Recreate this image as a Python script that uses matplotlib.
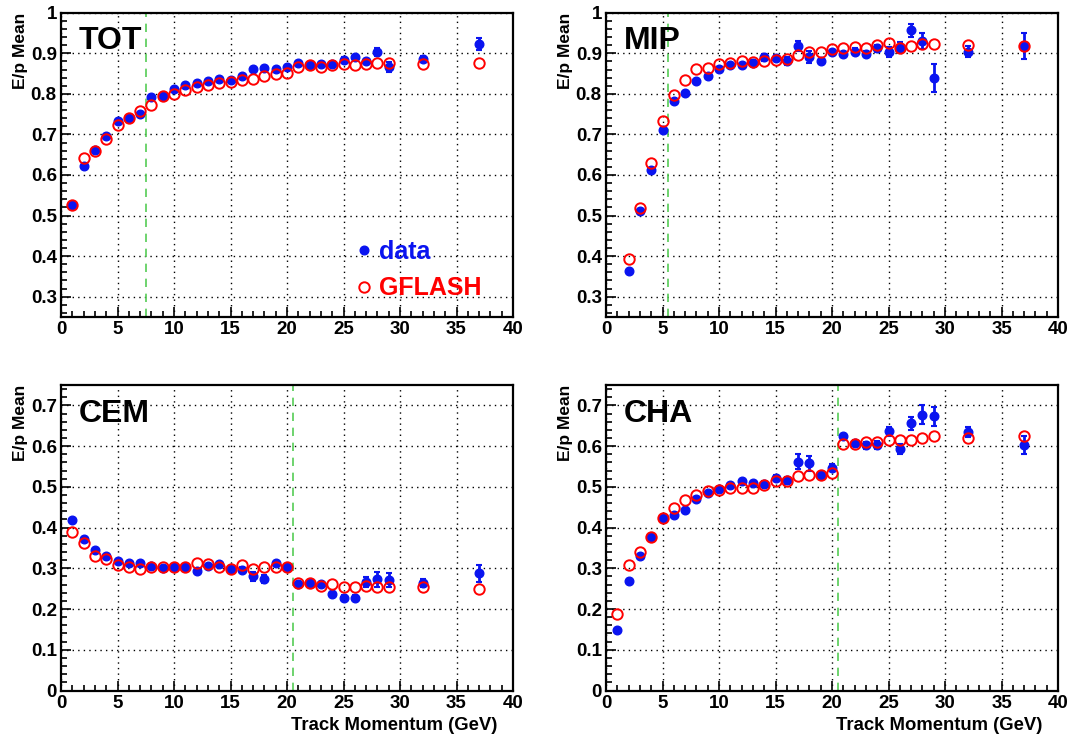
import matplotlib
matplotlib.use("Agg")
import matplotlib.pyplot as plt
from matplotlib.ticker import MultipleLocator, FuncFormatter
from matplotlib.lines import Line2D

plt.rcParams['font.family'] = ['Liberation Sans', 'DejaVu Sans']
plt.rcParams['font.weight'] = 'bold'

momentum = [1, 2, 3, 4, 5, 6, 7, 8, 9, 10, 11, 12, 13, 14, 15, 16, 17, 18, 19, 20,
            21, 22, 23, 24, 25, 26, 27, 28, 29, 32, 37]
momentum_mip = momentum[1:]

tot_data = [0.527, 0.622, 0.661, 0.696, 0.733, 0.741, 0.751, 0.792, 0.794, 0.813,
            0.822, 0.827, 0.831, 0.837, 0.835, 0.843, 0.861, 0.863, 0.861, 0.865,
            0.877, 0.870, 0.873, 0.873, 0.884, 0.890, 0.880, 0.904, 0.867, 0.887, 0.923]
tot_err = [0.004, 0.004, 0.004, 0.004, 0.004, 0.004, 0.004, 0.004, 0.004, 0.004,
           0.004, 0.004, 0.004, 0.004, 0.004, 0.004, 0.006, 0.006, 0.005, 0.005,
           0.005, 0.005, 0.005, 0.005, 0.006, 0.006, 0.006, 0.010, 0.012, 0.007, 0.015]
tot_gflash = [0.527, 0.641, 0.658, 0.688, 0.724, 0.741, 0.757, 0.773, 0.794, 0.800,
              0.810, 0.818, 0.821, 0.827, 0.829, 0.833, 0.837, 0.845, 0.849, 0.851,
              0.867, 0.870, 0.866, 0.871, 0.873, 0.870, 0.873, 0.876, 0.876, 0.873, 0.876]

mip_data = [0.364, 0.512, 0.613, 0.710, 0.782, 0.802, 0.831, 0.843, 0.861,
            0.871, 0.871, 0.877, 0.890, 0.888, 0.880, 0.918, 0.890, 0.881, 0.902,
            0.898, 0.904, 0.898, 0.912, 0.904, 0.914, 0.957, 0.930, 0.839, 0.904, 0.918]
mip_err = [0.003, 0.003, 0.004, 0.004, 0.004, 0.004, 0.004, 0.005, 0.005,
           0.005, 0.005, 0.006, 0.008, 0.008, 0.010, 0.012, 0.015, 0.005, 0.007,
           0.006, 0.008, 0.008, 0.009, 0.012, 0.013, 0.016, 0.019, 0.034, 0.013, 0.031]
mip_gflash = [0.392, 0.519, 0.629, 0.733, 0.796, 0.833, 0.862, 0.863, 0.874,
              0.876, 0.881, 0.878, 0.882, 0.884, 0.885, 0.896, 0.902, 0.904, 0.910,
              0.912, 0.915, 0.912, 0.920, 0.926, 0.912, 0.918, 0.922, 0.923, 0.920, 0.918]

cem_data = [0.418, 0.373, 0.346, 0.329, 0.319, 0.312, 0.314, 0.306, 0.300, 0.302,
            0.302, 0.293, 0.306, 0.310, 0.298, 0.296, 0.280, 0.274, 0.314, 0.302,
            0.261, 0.265, 0.262, 0.237, 0.228, 0.228, 0.266, 0.273, 0.271, 0.263, 0.288]
cem_err = [0.003, 0.003, 0.003, 0.003, 0.003, 0.003, 0.003, 0.003, 0.003, 0.003,
           0.003, 0.004, 0.004, 0.004, 0.004, 0.006, 0.010, 0.010, 0.005, 0.005,
           0.005, 0.005, 0.005, 0.006, 0.006, 0.007, 0.012, 0.018, 0.018, 0.010, 0.021]
cem_gflash = [0.390, 0.361, 0.331, 0.324, 0.308, 0.302, 0.298, 0.302, 0.304, 0.302,
              0.302, 0.312, 0.311, 0.304, 0.298, 0.307, 0.298, 0.302, 0.302, 0.302,
              0.265, 0.263, 0.257, 0.262, 0.254, 0.255, 0.257, 0.255, 0.254, 0.254, 0.249]

cha_data = [0.149, 0.270, 0.329, 0.376, 0.424, 0.432, 0.443, 0.470, 0.485, 0.494,
            0.504, 0.514, 0.509, 0.508, 0.522, 0.516, 0.562, 0.558, 0.528, 0.547,
            0.624, 0.607, 0.602, 0.602, 0.636, 0.593, 0.656, 0.677, 0.673, 0.634, 0.602]
cha_err = [0.004, 0.004, 0.004, 0.004, 0.004, 0.004, 0.004, 0.005, 0.005, 0.005,
           0.005, 0.006, 0.006, 0.006, 0.008, 0.009, 0.018, 0.018, 0.006, 0.008,
           0.006, 0.007, 0.008, 0.010, 0.012, 0.013, 0.016, 0.023, 0.023, 0.012, 0.022]
cha_gflash = [0.188, 0.307, 0.341, 0.376, 0.424, 0.447, 0.467, 0.479, 0.490, 0.492,
              0.496, 0.497, 0.497, 0.505, 0.514, 0.514, 0.526, 0.530, 0.528, 0.535,
              0.606, 0.604, 0.611, 0.611, 0.616, 0.614, 0.615, 0.619, 0.624, 0.619, 0.626]

W, H = 1072.0, 738.0
panels = [
    dict(name="TOT", x=momentum, data=tot_data, err=tot_err, mc=tot_gflash, cut=7.5,
         ylim=(0.25, 1.0), rect=[61/W, 1-317/H, 452/W, (317-12.7)/H],
         xlabel=False, legend=True),
    dict(name="MIP", x=momentum_mip, data=mip_data, err=mip_err, mc=mip_gflash, cut=5.5,
         ylim=(0.25, 1.0), rect=[606/W, 1-317/H, 452/W, (317-12.7)/H],
         xlabel=False, legend=False),
    dict(name="CEM", x=momentum, data=cem_data, err=cem_err, mc=cem_gflash, cut=20.5,
         ylim=(0.0, 0.75), rect=[61/W, 1-690.5/H, 452/W, (690.5-385)/H],
         xlabel=True, legend=False),
    dict(name="CHA", x=momentum, data=cha_data, err=cha_err, mc=cha_gflash, cut=20.5,
         ylim=(0.0, 0.75), rect=[606/W, 1-690.5/H, 452/W, (690.5-385)/H],
         xlabel=True, legend=False),
]

BLUE = '#0a14f0'
RED = '#ff0000'
GREEN = '#55cc55'

fig = plt.figure(figsize=(10.72, 7.38), dpi=100)

def fmt(v, pos):
    return ('%g' % round(v, 3))

for p in panels:
    ax = fig.add_axes(p["rect"])
    ax.set_xlim(0, 40)
    ax.set_ylim(*p["ylim"])
    ax.xaxis.set_major_locator(MultipleLocator(5))
    ax.xaxis.set_minor_locator(MultipleLocator(1))
    ax.yaxis.set_major_locator(MultipleLocator(0.1))
    ax.yaxis.set_minor_locator(MultipleLocator(0.02))
    ax.yaxis.set_major_formatter(FuncFormatter(fmt))
    ax.xaxis.set_major_formatter(FuncFormatter(fmt))
    ax.tick_params(which='both', direction='in', top=False, right=False,
                   labelsize=13.5, width=1.2)
    ax.tick_params(which='major', length=7, pad=3)
    ax.tick_params(which='minor', length=4)
    for lab in ax.get_xticklabels() + ax.get_yticklabels():
        lab.set_fontweight('bold')
    for s in ax.spines.values():
        s.set_linewidth(1.6)
    ax.grid(True, which='major', color='black', linestyle=(0, (1, 3)), linewidth=1.0)
    ax.set_axisbelow(True)
    ax.axvline(p["cut"], color=GREEN, linestyle=(0, (5, 4)), linewidth=1.2, zorder=2)
    ax.errorbar(p["x"], p["data"], yerr=p["err"], fmt='o', color=BLUE, ms=6.2,
                elinewidth=2.0, capsize=2.5, capthick=1.5, zorder=3)
    ax.plot(p["x"], p["mc"], 'o', mfc='none', mec=RED, mew=1.4, ms=7.5, zorder=4,
            linestyle='none')
    ax.text(0.04, 0.955, p["name"], transform=ax.transAxes, fontsize=23,
            fontweight='bold', va='top', ha='left')
    ax.set_ylabel("E/p Mean", fontsize=12.5, fontweight='bold', loc='top')
    ax.yaxis.set_label_coords(-33/452, 1.0)
    if p["xlabel"]:
        ax.set_xlabel("Track Momentum (GeV)", fontsize=13.3, fontweight='bold',
                      loc='right')
        ax.xaxis.set_label_coords(436/452, -26/305.5)
    if p["legend"]:
        handles = [Line2D([], [], marker='o', color=BLUE, linestyle='none', ms=6.2),
                   Line2D([], [], marker='o', mfc='none', mec=RED, mew=1.4,
                          linestyle='none', ms=7.5)]
        leg = ax.legend(handles, ["data", "GFLASH"], loc='lower left',
                        bbox_to_anchor=(0.643, 0.055), frameon=False,
                        prop=dict(size=18, weight='bold'), handletextpad=0.1,
                        handlelength=1.0, labelspacing=0.5, borderaxespad=0.0,
                        borderpad=0.0)
        for t, c in zip(leg.get_texts(), [BLUE, RED]):
            t.set_color(c)

fig.savefig("out.png", dpi=100)
